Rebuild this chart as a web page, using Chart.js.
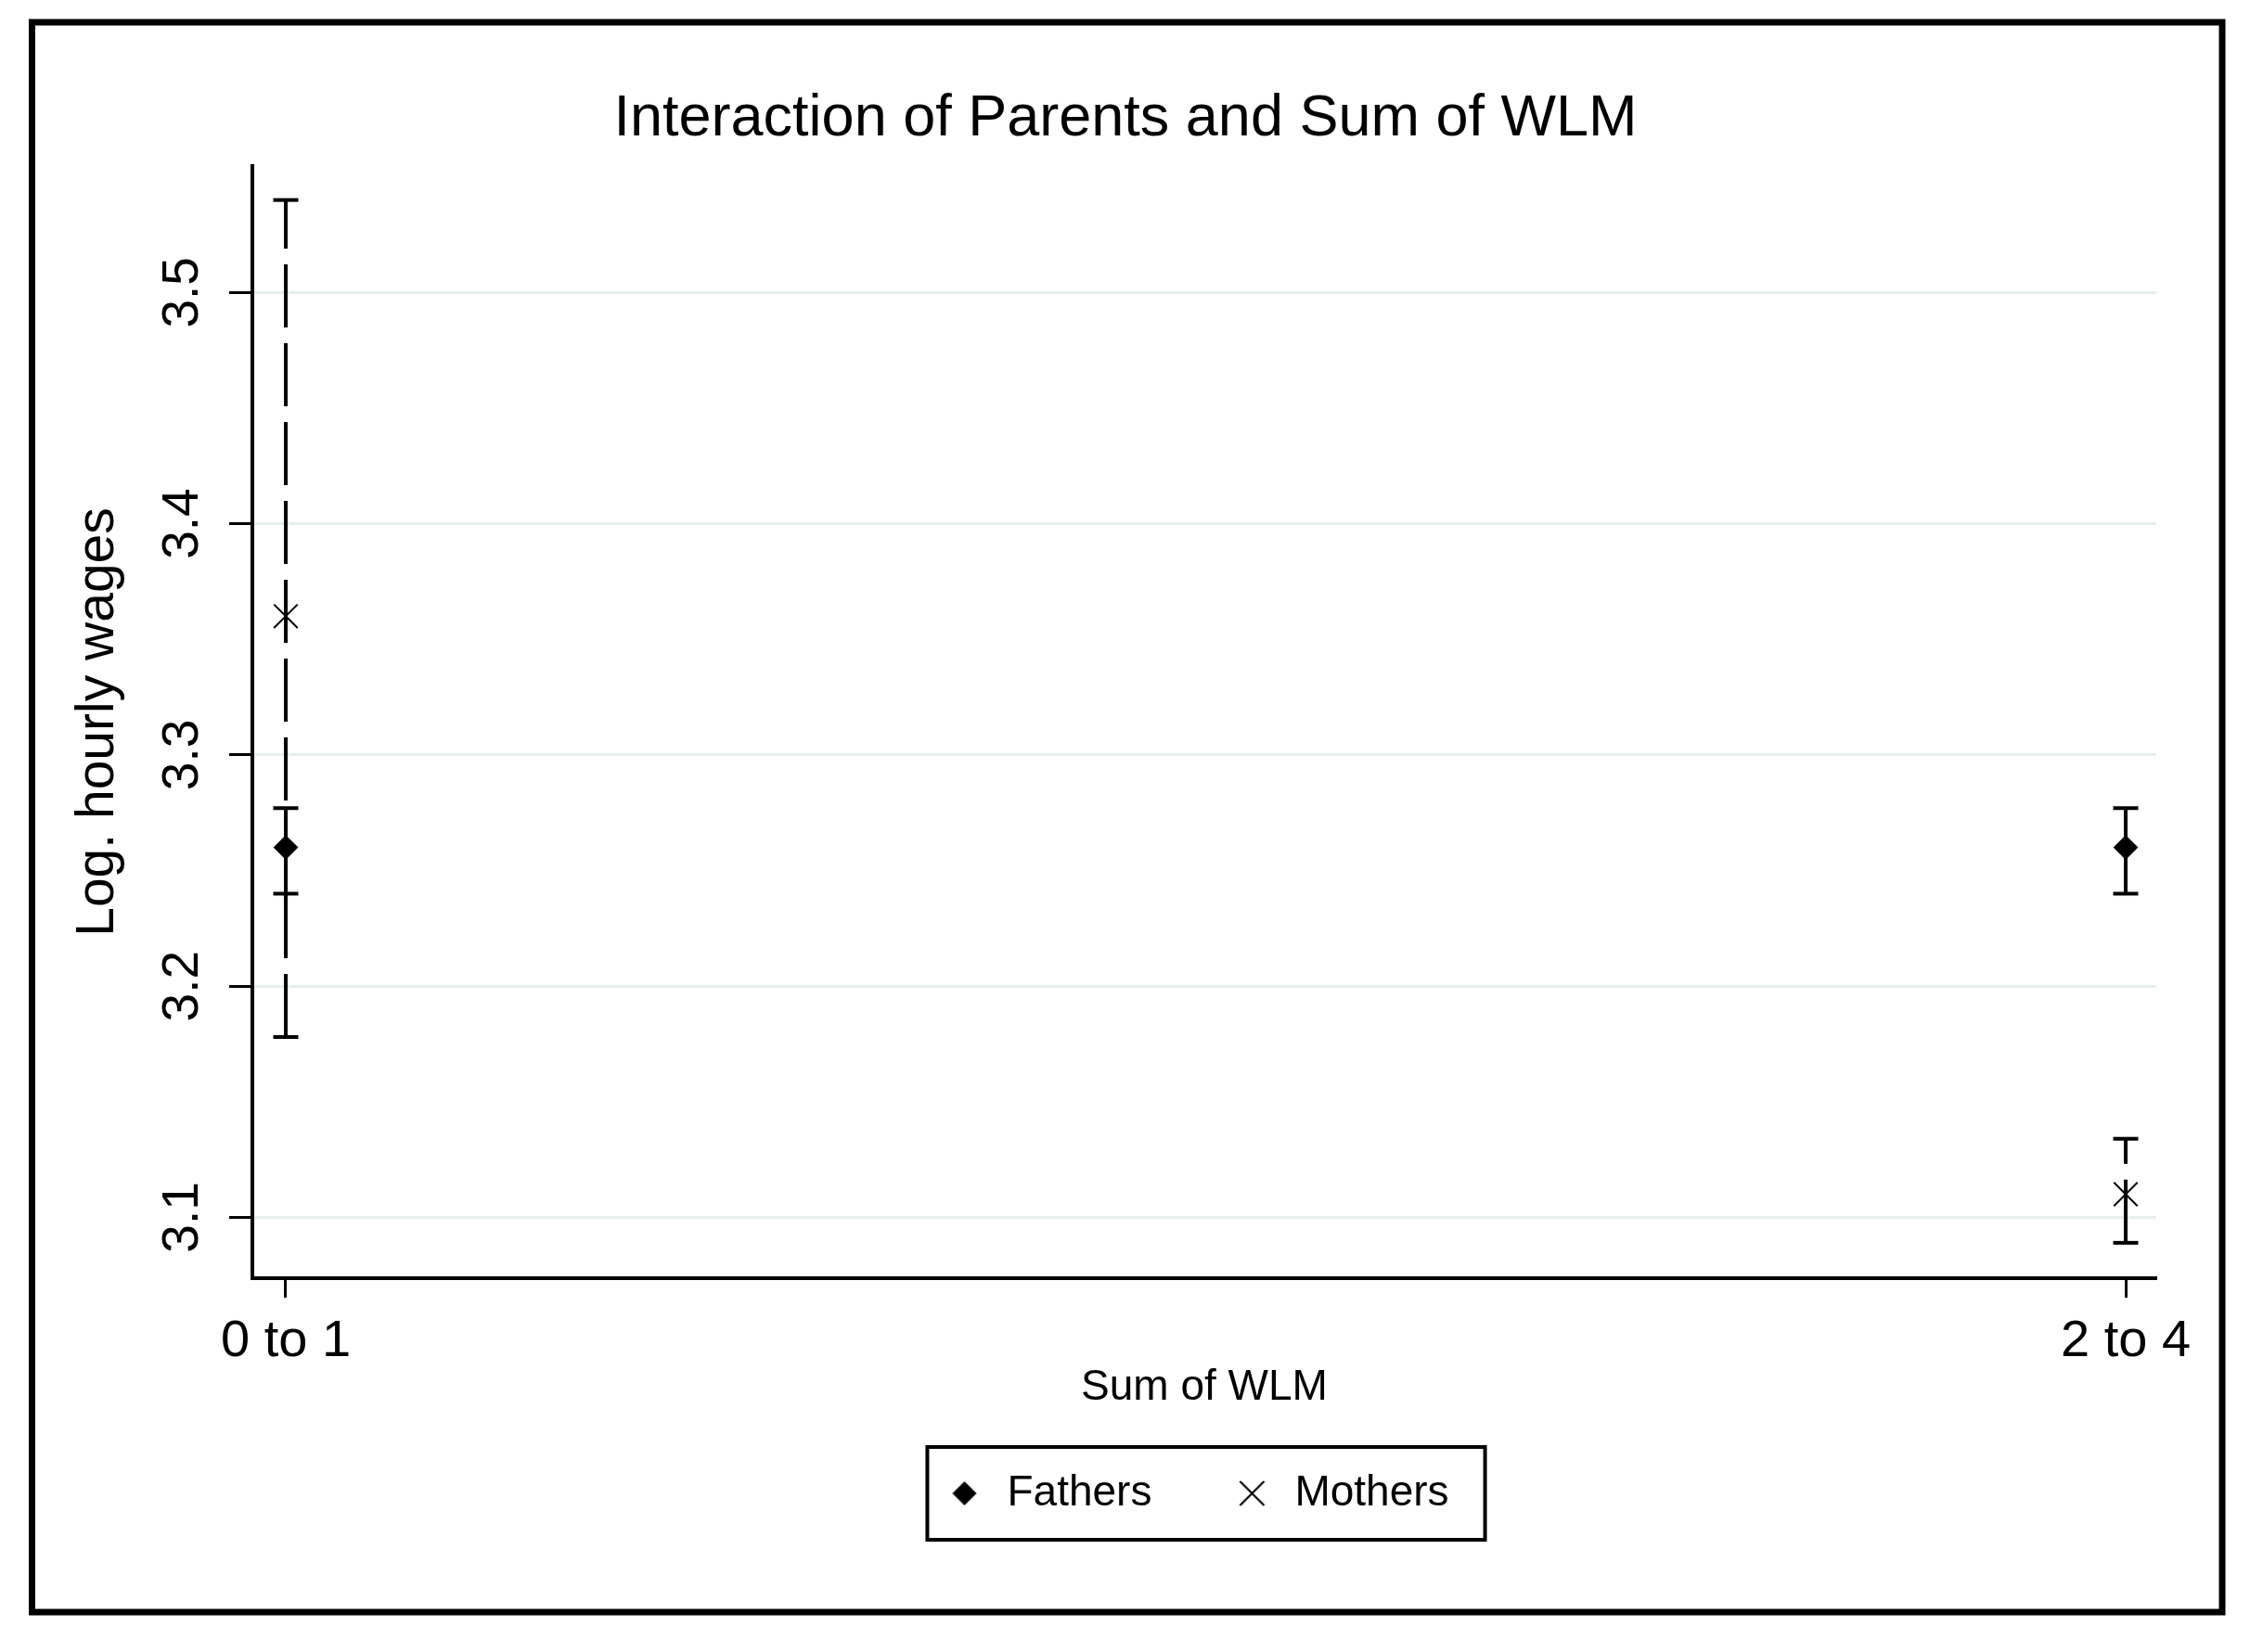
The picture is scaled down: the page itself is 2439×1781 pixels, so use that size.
<!DOCTYPE html>
<html><head><meta charset="utf-8">
<script src="https://cdn.jsdelivr.net/npm/chart.js@4/dist/chart.umd.min.js"></script>
<style>html,body{margin:0;padding:0;background:#fff;}canvas{display:block;}</style>
</head><body>
<canvas id="c" width="2439" height="1781" style="width:2439px;height:1781px"></canvas>
<script>
// ---- data ----
const categories = ['0 to 1', '2 to 4'];
const xPositions = [0, 1];
const seriesNames = ['Fathers', 'Mothers'];
const fathersMean = [3.26, 3.26];
const fathersLow = [3.240, 3.240];
const fathersHigh = [3.277, 3.277];
const mothersMean = [3.36, 3.11];
const mothersLow = [3.178, 3.089];
const mothersHigh = [3.540, 3.134];
const yTicks = [3.1, 3.2, 3.3, 3.4, 3.5];
const yTickLabels = ['3.1', '3.2', '3.3', '3.4', '3.5'];

const FONT = "'Liberation Sans', Arial, Helvetica, sans-serif";
Chart.defaults.font.family = FONT;
Chart.defaults.color = '#000';

function ciDatasets(low, high, dash) {
  return xPositions.map((x, i) => ({
    label: '_ci',
    data: [{x: x, y: low[i]}, {x: x, y: high[i]}],
    showLine: true,
    borderColor: '#000', borderWidth: 4, borderDash: dash, borderCapStyle: 'butt',
    pointStyle: 'line', pointRadius: 13.5, pointHoverRadius: 13.5,
    pointBorderWidth: 4, pointBorderColor: '#000', pointBackgroundColor: '#000',
    tension: 0, fill: false
  }));
}

function markerCanvas(kind) {
  const c = document.createElement('canvas');
  c.width = 30; c.height = 30;
  const g = c.getContext('2d');
  g.fillStyle = '#000'; g.strokeStyle = '#000';
  if (kind === 'diamond') {
    g.beginPath(); g.moveTo(15, 2); g.lineTo(28, 15); g.lineTo(15, 28); g.lineTo(2, 15); g.closePath(); g.fill();
  } else {
    g.lineWidth = 2.2; g.beginPath();
    g.moveTo(2, 2); g.lineTo(28, 28); g.moveTo(28, 2); g.lineTo(2, 28); g.stroke();
  }
  return c;
}
const legendMarkers = [markerCanvas('diamond'), markerCanvas('x')];

const framePlugin = {
  id: 'frame',
  afterLayout(chart) {
    // nudge the legend block slightly left, as in the original
    const lg = chart.legend;
    if (lg) { lg.right -= 18; lg.width -= 18; }
  },
  beforeDraw(chart) {
    const ctx = chart.ctx;
    ctx.save(); ctx.fillStyle = '#fff'; ctx.fillRect(0, 0, chart.width, chart.height); ctx.restore();
  },
  afterDraw(chart) {
    const ctx = chart.ctx;
    ctx.save();
    ctx.strokeStyle = '#000';
    ctx.lineWidth = 7;
    ctx.strokeRect(34.5, 24, 2360.5, 1714);
    const hb = chart.legend.legendHitBoxes;
    if (hb && hb.length) {
      const last = hb[hb.length - 1];
      const left = hb[0].left - 17;
      const right = last.left + last.width + 39;
      const cy = hb[0].top + hb[0].height / 2;
      ctx.lineWidth = 4;
      ctx.strokeRect(left, cy - 50, right - left, 100);
    }
    ctx.restore();
  }
};

const datasets = [
  {
    label: seriesNames[0],
    data: xPositions.map((x, i) => ({x: x, y: fathersMean[i]})),
    pointStyle: 'rectRot', pointRadius: 12, pointHoverRadius: 12,
    pointBackgroundColor: '#000', pointBorderColor: '#000', pointBorderWidth: 2, showLine: false
  },
  {
    label: seriesNames[1],
    data: xPositions.map((x, i) => ({x: x, y: mothersMean[i]})),
    pointStyle: 'crossRot', pointRadius: 18, pointHoverRadius: 18,
    pointBackgroundColor: '#000', pointBorderColor: '#000', pointBorderWidth: 2, showLine: false
  },
  ...ciDatasets(fathersLow, fathersHigh, []),
  ...ciDatasets(mothersLow, mothersHigh, [68, 17])
];

new Chart(document.getElementById('c'), {
  type: 'scatter',
  data: { datasets: datasets },
  plugins: [framePlugin],
  options: {
    responsive: false,
    devicePixelRatio: 1,
    animation: false,
    events: [],
    layout: { padding: { left: 102, right: 115, top: 0, bottom: 138 } },
    plugins: {
      tooltip: { enabled: false },
      title: {
        display: true,
        text: 'Interaction of Parents and Sum of WLM',
        color: '#000',
        font: { size: 63, weight: 'normal', lineHeight: 1 },
        padding: { top: 97, bottom: 19 }
      },
      legend: {
        position: 'bottom',
        fullSize: false,
        labels: {
          usePointStyle: true,
          boxWidth: 46, boxHeight: 20,
          padding: 85,
          color: '#000',
          font: { size: 46 },
          generateLabels: () => seriesNames.map((name, i) => ({
            text: name, pointStyle: legendMarkers[i], fillStyle: '#000', strokeStyle: '#000',
            lineWidth: 0, hidden: false, datasetIndex: i, fontColor: '#000'
          }))
        }
      }
    },
    scales: {
      x: {
        type: 'linear', position: 'bottom',
        min: -0.01815, max: 1.01664,
        afterBuildTicks: s => { s.ticks = xPositions.map(v => ({value: v})); },
        afterFit: s => { s.height = 124; },
        ticks: {
          callback: (v, i) => categories[i],
          autoSkip: false, minRotation: 0, maxRotation: 0,
          padding: 20, color: '#000', font: { size: 56, lineHeight: 1 }
        },
        grid: { drawOnChartArea: false, drawTicks: true, tickLength: 21, tickWidth: 3, tickColor: '#000', color: '#000' },
        border: { display: true, color: '#000', width: 4 },
        title: { display: true, text: 'Sum of WLM', color: '#000', font: { size: 46, lineHeight: 1 }, padding: { top: 0, bottom: -17 } }
      },
      y: {
        type: 'linear', position: 'left',
        min: 3.0737, max: 3.5547,
        afterBuildTicks: s => { s.ticks = yTicks.map(v => ({value: v})); },
        afterFit: s => { s.width = 170; },
        ticks: {
          callback: (v, i) => yTickLabels[i],
          autoSkip: false, minRotation: 90, maxRotation: 90, crossAlign: 'center',
          padding: 11, color: '#000', font: { size: 55, lineHeight: 1 }
        },
        grid: { color: '#e6eeef', lineWidth: 3, drawOnChartArea: true, drawTicks: true, tickLength: 25, tickWidth: 3, tickColor: '#000' },
        border: { display: true, color: '#000', width: 4 },
        title: { display: true, text: 'Log. hourly wages', color: '#000', font: { size: 57, lineHeight: 1 }, padding: { top: -24, bottom: 0 } }
      }
    }
  }
});
</script>
</body></html>
